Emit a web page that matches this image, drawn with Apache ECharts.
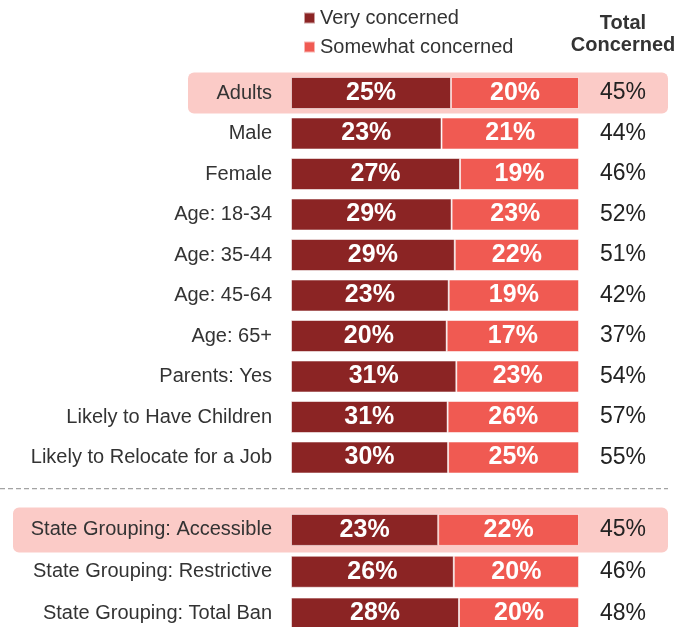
<!DOCTYPE html>
<html>
<head>
<meta charset="utf-8">
<script src="https://cdn.jsdelivr.net/npm/echarts@6/dist/echarts.min.js"></script>
<style>
html,body{margin:0;padding:0;background:#fff;}
#chart{width:678px;height:627px;}
</style>
</head>
<body>
<div id="chart"></div>
<script>
const categoriesTop = ['Adults','Male','Female','Age: 18-34','Age: 35-44','Age: 45-64','Age: 65+','Parents: Yes','Likely to Have Children','Likely to Relocate for a Job'];
const veryTop = [25,23,27,29,29,23,20,31,31,30];
const somewhatTop = [20,21,19,23,22,19,17,23,26,25];
const totalTop = [45,44,46,52,51,42,37,54,57,55];

const categoriesBottom = ['State Grouping: Accessible','State Grouping: Restrictive','State Grouping: Total Ban'];
const veryBottom = [23,26,28];
const somewhatBottom = [22,20,20];
const totalBottom = [45,46,48];

const seriesNames = ['Very concerned','Somewhat concerned'];
const colors = ['#8B2424','#F05A52'];
const FONT = '"Liberation Sans", Arial, sans-serif';

function share(vals, totals){ return vals.map((v,i)=>({value: v/totals[i], raw: v})); }

const chart = echarts.init(document.getElementById('chart'), null, {renderer:'canvas'});

function barSeries(name, color, data, xi, yi){
  return {
    name: name, type:'bar', stack: 'g'+xi, xAxisIndex: xi, yAxisIndex: yi,
    barWidth: 32, data: data,
    itemStyle: {color: color, borderColor:'rgba(255,255,255,0.55)', borderWidth:1},
    label: {show:true, position:'inside', color:'#fff', fontFamily: FONT, fontWeight:'bold', fontSize:25,
      formatter: p => p.data.raw + '%'},
    emphasis: {disabled:true}, animation:false
  };
}

function catAxis(gi, cats, fmt, right){
  const ax = {
    type:'category', gridIndex: gi, data: cats, inverse: true,
    position: right ? 'right' : 'left',
    axisLine:{show:false}, axisTick:{show:false}, splitLine:{show:false},
    axisLabel:{color: right ? '#222' : '#333', fontFamily: FONT, fontSize: right ? 23 : 20, margin: right ? 44 : 19}
  };
  if (right) { ax.axisLabel.align = 'center'; ax.axisLabel.formatter = (v, i) => fmt[i] + '%'; }
  return ax;
}

const legendText = {fontFamily: FONT, fontSize:20, color:'#333', lineHeight:20};

const option = {
  animation:false,
  textStyle:{fontFamily: FONT},
  title: {
    text: 'Total\nConcerned', left: 623, top: 12, textAlign:'center', padding:0,
    textStyle:{fontFamily: FONT, fontWeight:'bold', fontSize:20, lineHeight:22, color:'#333'}
  },
  legend: [
    {data:[seriesNames[0]], left: 303, top: 8, icon:'rect', itemWidth:11, itemHeight:11, itemGap:4,
     textStyle: legendText, selectedMode:false, padding:0},
    {data:[seriesNames[1]], left: 303, top: 37, icon:'rect', itemWidth:11, itemHeight:11, itemGap:4,
     textStyle: legendText, selectedMode:false, padding:0}
  ],
  grid: [
    {left: 291, right: 99, top: 72.75, height: 405, containLabel:false, outerBoundsMode:'none'},
    {left: 291, right: 99, top: 509, height: 125.5, containLabel:false, outerBoundsMode:'none'}
  ],
  xAxis: [
    {type:'value', gridIndex:0, min:0, max:1, show:false},
    {type:'value', gridIndex:1, min:0, max:1, show:false}
  ],
  yAxis: [
    catAxis(0, categoriesTop, null, false),
    catAxis(0, categoriesTop, totalTop, true),
    catAxis(1, categoriesBottom, null, false),
    catAxis(1, categoriesBottom, totalBottom, true)
  ],
  series: [
    barSeries(seriesNames[0], colors[0], share(veryTop, totalTop), 0, 0),
    barSeries(seriesNames[1], colors[1], share(somewhatTop, totalTop), 0, 0),
    barSeries(seriesNames[0], colors[0], share(veryBottom, totalBottom), 1, 2),
    barSeries(seriesNames[1], colors[1], share(somewhatBottom, totalBottom), 1, 2)
  ]
};
chart.setOption(option);

// Decorations positioned via the library's own scales
const yAdults = chart.convertToPixel({yAxisIndex:0}, categoriesTop[0]);
const yAccess = chart.convertToPixel({yAxisIndex:2}, categoriesBottom[0]);
const yLastTop = chart.convertToPixel({yAxisIndex:0}, categoriesTop[categoriesTop.length-1]);
const yDash = (yLastTop + yAccess) / 2 - 5;

chart.setOption({
  graphic: [
    {type:'rect', z:-10, silent:true, shape:{x:188, y:yAdults-20.5, width:480, height:41, r:6}, style:{fill:'#FBCBC7'}},
    {type:'rect', z:-10, silent:true, shape:{x:13, y:yAccess-22.5, width:655, height:45, r:6}, style:{fill:'#FBCBC7'}},
    {type:'line', z:-10, silent:true, shape:{x1:0, y1:yDash, x2:668, y2:yDash}, style:{stroke:'#8c8c8c', lineWidth:1, lineDash:[5,3]}}
  ]
});
</script>
</body>
</html>
